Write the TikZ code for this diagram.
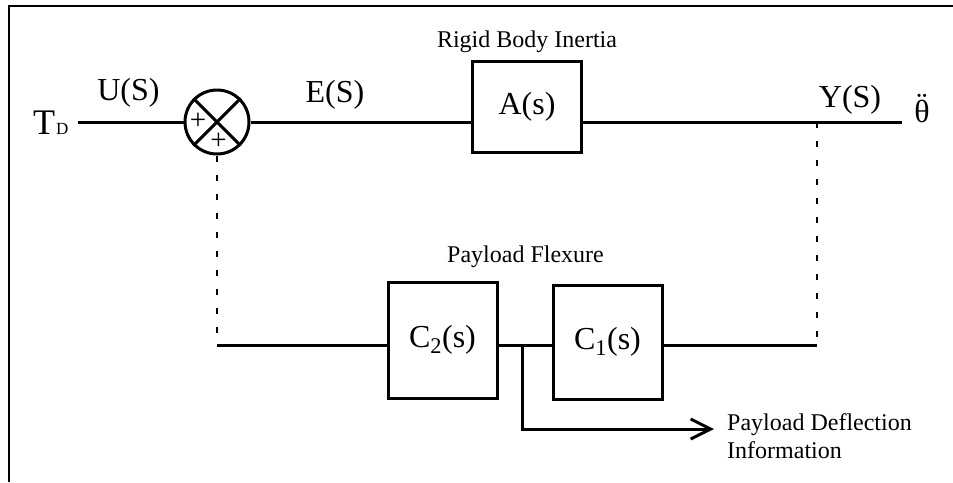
\documentclass[tikz,border=0pt]{standalone}
\usepackage{fontspec}
\setmainfont{Liberation Serif}
\usetikzlibrary{arrows.meta,calc}
\begin{document}
\begin{tikzpicture}[x=1pt,y=-1pt,
  big/.style={font=\fontsize{32}{36}\selectfont, inner sep=0pt},
  small/.style={font=\fontsize{24}{28}\selectfont, inner sep=0pt},
  blk/.style={draw, line width=3pt, rectangle, inner sep=0pt, font=\fontsize{32}{36}\selectfont},
  sig/.style={line width=3pt},
  fb/.style={line width=2pt, dash pattern=on 6pt off 13pt},
  plus/.style={font=\fontsize{29}{30}\selectfont, inner sep=0pt}
]
\useasboundingbox (0,0) rectangle (953,482);
% frame (left and top edges visible)
\draw[line width=2pt] (8.5,482) -- (8.5,5.5) -- (953,5.5);

% summing junction
\node[draw, circle, line width=3pt, minimum size=64pt, inner sep=0pt] (sum) at (217,122) {};
\draw[line width=3pt] (sum.45) -- (sum.225) (sum.135) -- (sum.315);
\node[plus] (pl1) at (198,121) {+};
\node[plus] (pl2) at (218.5,141) {+};

% input
\node[big, anchor=base west, font=\fontsize{36}{40}\selectfont] (td) at (33,134) {T\kern1pt{\fontsize{17}{17}\selectfont D}};
\node[big, anchor=base] (us) at (128.5,100) {U(S)};
\draw[sig] ([xshift=9pt]td.east |- sum.west) -- (sum.west);

% A block
\node[blk, minimum width=109pt, minimum height=91pt] (A) at (527,106.5) {\raisebox{-7pt}{A(s)}};
\node[small, anchor=base] (rbi) at (527,47) {Rigid Body Inertia};
\node[big, anchor=base] (es) at (335,102) {E(S)};
\draw[sig] (sum.east) -- (sum.east -| A.west);
\coordinate (out) at (902,122);
\coordinate (ytap) at (817,122);
\draw[sig] (A.east |- sum.east) -- (out);
\node[big, anchor=base] (ys) at (850,107) {Y(S)};
\node[big, anchor=base] (theta) at (922,122) {\ooalign{θ\cr\hidewidth\raisebox{0.24em}{¨}\hidewidth\cr}};

% feedback path
\node[blk, minimum width=109pt, minimum height=116pt] (C2) at (442.5,340) {C\textsubscript{2}(s)};
\node[blk, minimum width=109pt, minimum height=114pt] (C1) at (607.5,342) {C\textsubscript{1}(s)};
\node[small, anchor=base] (pf) at (525.5,262) {Payload Flexure};
\coordinate (fbR) at (817,345);
\coordinate (fbL) at (217,345);
\coordinate (br) at (522,345);
\draw[fb] (ytap) -- (fbR);
\draw[fb] (sum.south) -- (fbL);
\draw[sig] (fbR) -- (C1.east |- fbR);
\draw[sig] (C1.west |- fbR) -- (C2.east |- fbR);
\draw[sig] (C2.west |- fbR) -- (fbL);

% payload deflection output
\node[small, anchor=north west, align=left, font=\fontsize{24}{28}\selectfont] (pd) at (727,413) {Payload Deflection\\Information};
\coordinate (arrEnd) at (714,429);
\draw[sig, -{Straight Barb[length=20pt,width=20pt,line width=3pt]}] (br) |- (arrEnd);
\end{tikzpicture}
\end{document}
